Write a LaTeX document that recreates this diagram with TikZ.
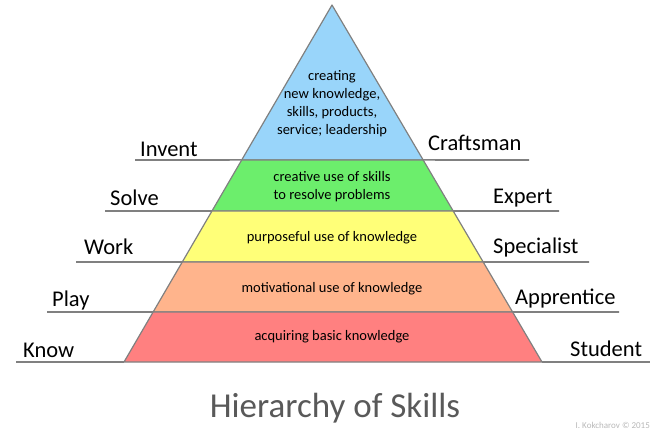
\documentclass[tikz,border=0pt]{standalone}
\usepackage{fontspec}
\setmainfont{Carlito}
\usetikzlibrary{calc}
\definecolor{skyband}{RGB}{153,213,250}
\definecolor{grassband}{RGB}{108,238,108}
\definecolor{lemonband}{RGB}{255,255,120}
\definecolor{peachband}{RGB}{255,180,140}
\definecolor{roseband}{RGB}{255,128,128}
\definecolor{edgegray}{RGB}{128,128,128}
\begin{document}
\begin{tikzpicture}[x=1pt, y=-1pt,
		band/.style={draw=edgegray, line width=1.2pt, line join=round},
		rule/.style={draw=edgegray, line width=1.6pt},
		level/.style={anchor=base west, inner sep=0pt, font=\fontsize{22.5}{27}\selectfont},
		inside/.style={align=center, inner sep=0pt, font=\fontsize{14.5}{18}\selectfont},
	]
		\useasboundingbox (0,0) rectangle (668,439);
		\coordinate (apex) at (332,5);
		\coordinate (bl) at (124,362);
		\coordinate (br) at (542,362);
		\foreach \n/\t in {1/0.434,2/0.577,3/0.720,4/0.860}{
			\coordinate (l\n) at ($(apex)!\t!(bl)$);
			\coordinate (r\n) at ($(apex)!\t!(br)$);
		}
		
		\filldraw[band, fill=skyband] (apex) -- (l1) -- (r1) -- cycle;
		\filldraw[band, fill=grassband] (l1) -- (l2) -- (r2) -- (r1) -- cycle;
		\filldraw[band, fill=lemonband] (l2) -- (l3) -- (r3) -- (r2) -- cycle;
		\filldraw[band, fill=peachband] (l3) -- (l4) -- (r4) -- (r3) -- cycle;
		\filldraw[band, fill=roseband] (l4) -- (bl) -- (br) -- (r4) -- cycle;
		
		% lines under the labels
		\draw[rule] (135,160) -- (l1);
		\draw[rule] (r1) -- (529,160);
		\draw[rule] (105,211) -- (l2);
		\draw[rule] (r2) -- (559,211);
		\draw[rule] (76,262) -- (l3);
		\draw[rule] (r3) -- (589,262);
		\draw[rule] (47,312) -- (l4);
		\draw[rule] (r4) -- (619,312);
		\draw[rule] (16,362) -- (bl);
		\draw[rule] (br) -- (650,362);
		
		\node (invent) [level] at (140,156) {Invent};
		\node (solve) [level] at (110,205) {Solve};
		\node (work) [level] at (84,254) {Work};
		\node (play) [level] at (52,306) {Play};
		\node (know) [level] at (23,357) {Know};
		\node (craftsman) [level] at (428,150) {Craftsman};
		\node (expert) [level] at (493,203) {Expert};
		\node (specialist) [level] at (493,253) {Specialist};
		\node (apprentice) [level] at (515,304) {Apprentice};
		\node (student) [level] at (570,356) {Student};
		
		\node (create) [inside] at (332,104) {creating\\new knowledge,\\skills, products,\\service; leadership};
		\node (resolve) [inside] at (332,187) {creative use of skills\\to resolve problems};
		\node (purpose) [inside] at (332,238) {purposeful use of knowledge};
		\node (motive) [inside] at (332,289) {motivational use of knowledge};
		\node (acquire) [inside] at (332,337) {acquiring basic knowledge};
		
		\node (title) [anchor=base, inner sep=0pt, text=black!65, font=\fontsize{35}{40}\selectfont] at (335,417) {Hierarchy of Skills};
		\node (credit) [anchor=base east, inner sep=0pt, text=black!28, font=\fontsize{9}{11}\selectfont] at (650,428) {I. Kokcharov © 2015};
	\end{tikzpicture}
\end{document}
